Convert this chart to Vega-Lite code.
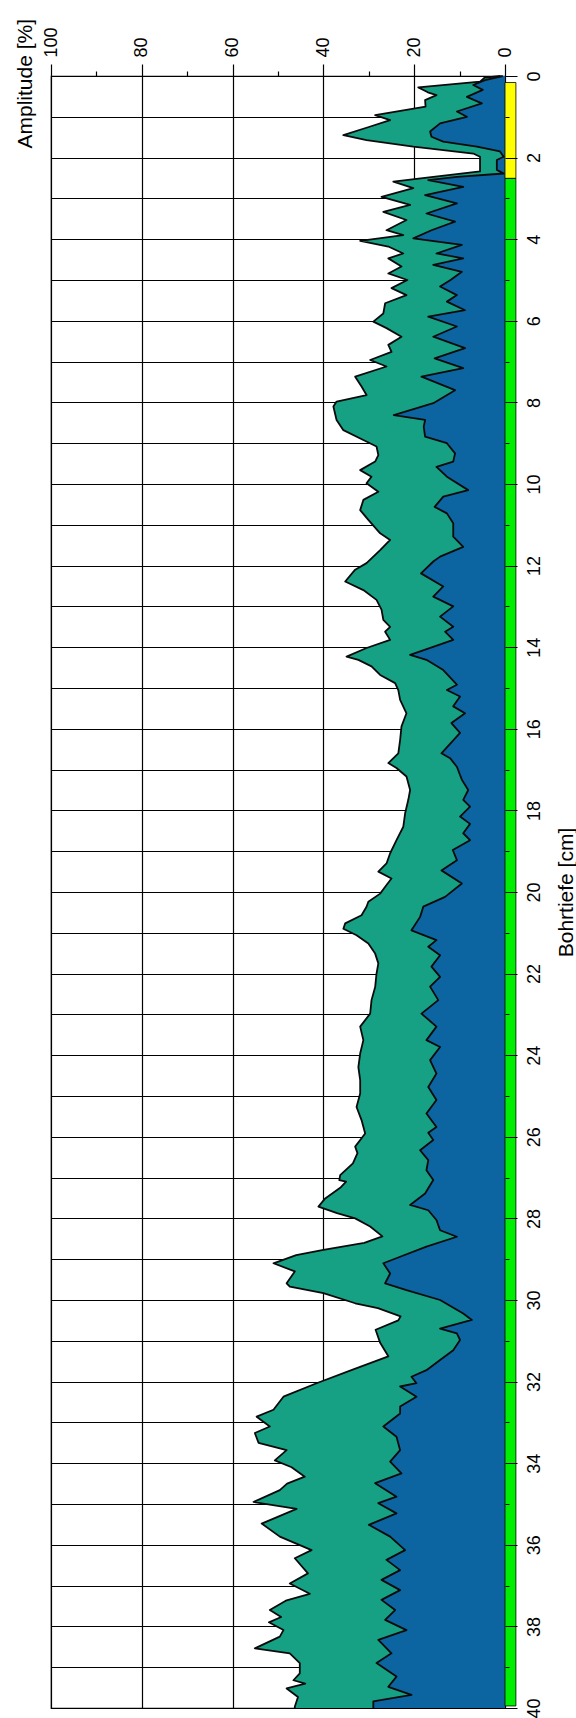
{
  "$schema": "https://vega.github.io/schema/vega-lite/v6.json",
  "width": 454,
  "height": 1632,
  "autosize": {"type": "none"},
  "padding": {"left": 51, "top": 76, "right": 71, "bottom": 10},
  "background": "white",
  "config": {
    "view": {"stroke": "black", "strokeWidth": 1.2},
    "font": "Liberation Sans"
  },
  "datasets": {
    "outer": [
      {"d":0.0,"v":1},{"d":0.04,"v":4.5},{"d":0.14,"v":5.5},{"d":0.28,"v":19.1},{"d":0.4,"v":17},{"d":0.47,"v":15.1},{"d":0.59,"v":17.6},{"d":0.75,"v":17.5},{"d":0.96,"v":28.6},{"d":1.08,"v":25.3},{"d":1.25,"v":30},{"d":1.45,"v":35.6},{"d":1.57,"v":30.5},{"d":1.73,"v":20.2},{"d":1.9,"v":7},{"d":1.98,"v":5.5},{"d":2.15,"v":5.5},{"d":2.34,"v":5.5},{"d":2.47,"v":15.8},{"d":2.59,"v":24.6},{"d":2.75,"v":20.2},{"d":2.96,"v":27.2},{"d":3.16,"v":20.9},{"d":3.33,"v":26.8},{"d":3.53,"v":21.7},{"d":3.78,"v":26.1},{"d":3.9,"v":22.4},{"d":4.04,"v":31.9},{"d":4.18,"v":25.7},{"d":4.35,"v":22.4},{"d":4.47,"v":25.7},{"d":4.67,"v":22.8},{"d":4.84,"v":25.7},{"d":5.0,"v":21.5},{"d":5.2,"v":25},{"d":5.37,"v":21.7},{"d":5.57,"v":26.4},{"d":5.82,"v":26.8},{"d":6.02,"v":29},{"d":6.18,"v":26.1},{"d":6.39,"v":22.8},{"d":6.59,"v":25.7},{"d":6.76,"v":25},{"d":6.96,"v":29.7},{"d":7.12,"v":26.1},{"d":7.37,"v":33},{"d":7.61,"v":31.6},{"d":7.82,"v":30.5},{"d":7.98,"v":37.1},{"d":8.1,"v":37.8},{"d":8.43,"v":37.1},{"d":8.68,"v":35.6},{"d":8.92,"v":31.2},{"d":9.08,"v":28.3},{"d":9.29,"v":27.9},{"d":9.45,"v":28.6},{"d":9.66,"v":31.9},{"d":9.82,"v":29.4},{"d":9.98,"v":30.5},{"d":10.19,"v":27.9},{"d":10.39,"v":31.2},{"d":10.64,"v":31.9},{"d":10.88,"v":30.1},{"d":11.21,"v":27.5},{"d":11.37,"v":25.3},{"d":11.62,"v":27.5},{"d":11.94,"v":30.5},{"d":12.1,"v":33},{"d":12.39,"v":35.2},{"d":12.6,"v":31.2},{"d":12.84,"v":28.3},{"d":13.08,"v":27.2},{"d":13.33,"v":26.8},{"d":13.5,"v":25.3},{"d":13.62,"v":26.4},{"d":13.82,"v":25.3},{"d":14.02,"v":30.5},{"d":14.23,"v":34.9},{"d":14.31,"v":32.3},{"d":14.47,"v":29.4},{"d":14.68,"v":27.5},{"d":14.88,"v":24.2},{"d":15.05,"v":23.5},{"d":15.29,"v":23.1},{"d":15.62,"v":21.7},{"d":15.94,"v":22.8},{"d":16.27,"v":23.1},{"d":16.6,"v":23.5},{"d":16.84,"v":25.7},{"d":16.96,"v":23.9},{"d":17.17,"v":21.7},{"d":17.5,"v":20.9},{"d":17.74,"v":21.3},{"d":18.07,"v":22},{"d":18.4,"v":22.4},{"d":18.73,"v":23.9},{"d":19.05,"v":25.3},{"d":19.3,"v":26.1},{"d":19.5,"v":27.9},{"d":19.67,"v":25},{"d":19.83,"v":26.1},{"d":20.04,"v":27.5},{"d":20.24,"v":30.1},{"d":20.36,"v":30.5},{"d":20.57,"v":31.6},{"d":20.77,"v":35.2},{"d":20.9,"v":35.6},{"d":21.06,"v":32.7},{"d":21.26,"v":30.1},{"d":21.51,"v":28.6},{"d":21.75,"v":27.9},{"d":22.0,"v":28.3},{"d":22.33,"v":28.6},{"d":22.65,"v":29.4},{"d":22.98,"v":29.7},{"d":23.3,"v":31.9},{"d":23.63,"v":31.2},{"d":23.96,"v":31.9},{"d":24.29,"v":32.3},{"d":24.61,"v":31.9},{"d":24.94,"v":31.9},{"d":25.27,"v":32.7},{"d":25.59,"v":31.6},{"d":25.92,"v":30.8},{"d":26.24,"v":33},{"d":26.4,"v":32.5},{"d":26.65,"v":33.5},{"d":26.94,"v":36.3},{"d":27.06,"v":36.5},{"d":27.1,"v":35},{"d":27.25,"v":36.3},{"d":27.51,"v":39.6},{"d":27.71,"v":41.1},{"d":27.87,"v":37},{"d":28.0,"v":33},{"d":28.2,"v":29.7},{"d":28.44,"v":27},{"d":28.6,"v":31},{"d":28.77,"v":40},{"d":28.9,"v":46},{"d":29.1,"v":51},{"d":29.3,"v":46.3},{"d":29.59,"v":48.1},{"d":29.67,"v":47.4},{"d":29.83,"v":40},{"d":30.08,"v":33},{"d":30.2,"v":28},{"d":30.4,"v":23},{"d":30.5,"v":23.5},{"d":30.73,"v":28.5},{"d":31.05,"v":27.5},{"d":31.38,"v":25.7},{"d":31.7,"v":33.4},{"d":32.04,"v":41.5},{"d":32.37,"v":48.8},{"d":32.69,"v":51},{"d":32.86,"v":54.7},{"d":33.1,"v":51.8},{"d":33.26,"v":55.1},{"d":33.5,"v":54.3},{"d":33.68,"v":48.1},{"d":33.93,"v":50.7},{"d":34.1,"v":47},{"d":34.33,"v":44.1},{"d":34.5,"v":48},{"d":34.66,"v":49.6},{"d":34.95,"v":55.4},{"d":35.12,"v":45.9},{"d":35.48,"v":53.6},{"d":35.8,"v":49.6},{"d":36.13,"v":42.6},{"d":36.33,"v":46.3},{"d":36.7,"v":43.4},{"d":36.95,"v":47.4},{"d":37.2,"v":43},{"d":37.36,"v":48.1},{"d":37.6,"v":51.8},{"d":37.77,"v":49.3},{"d":37.9,"v":52},{"d":38.09,"v":48.8},{"d":38.25,"v":49.6},{"d":38.54,"v":55.1},{"d":38.66,"v":47.4},{"d":38.9,"v":45.2},{"d":39.15,"v":45.2},{"d":39.32,"v":46.6},{"d":39.4,"v":44},{"d":39.52,"v":48.1},{"d":39.73,"v":45.6},{"d":39.97,"v":46.3},{"d":40.0,"v":46.3}
    ],
    "inner": [
      {"d":0.0,"v":0.5},{"d":0.1,"v":4.4},{"d":0.22,"v":7},{"d":0.34,"v":4.9},{"d":0.51,"v":8.4},{"d":0.67,"v":5.1},{"d":0.87,"v":10.6},{"d":1.0,"v":8.4},{"d":1.16,"v":14.3},{"d":1.36,"v":16.5},{"d":1.49,"v":16.2},{"d":1.61,"v":13.6},{"d":1.73,"v":6.2},{"d":1.85,"v":1.1},{"d":1.98,"v":0.3},{"d":2.06,"v":1.8},{"d":2.3,"v":1.8},{"d":2.39,"v":0.3},{"d":2.47,"v":10.6},{"d":2.55,"v":16.9},{"d":2.72,"v":9.2},{"d":2.92,"v":17.6},{"d":3.12,"v":10.6},{"d":3.37,"v":17.3},{"d":3.57,"v":11},{"d":3.78,"v":16.2},{"d":3.98,"v":20.2},{"d":4.14,"v":9.5},{"d":4.35,"v":15.1},{"d":4.47,"v":9.2},{"d":4.63,"v":15.8},{"d":4.8,"v":9.5},{"d":5.0,"v":12},{"d":5.16,"v":14.3},{"d":5.37,"v":10.6},{"d":5.53,"v":12.8},{"d":5.74,"v":8.8},{"d":5.9,"v":16.9},{"d":6.14,"v":10.6},{"d":6.39,"v":15.8},{"d":6.67,"v":8.8},{"d":6.92,"v":15.5},{"d":7.16,"v":9.2},{"d":7.37,"v":18.4},{"d":7.7,"v":11},{"d":8.02,"v":15.8},{"d":8.31,"v":24.5},{"d":8.43,"v":17.6},{"d":8.6,"v":17.9},{"d":8.84,"v":17.6},{"d":9.0,"v":12.8},{"d":9.25,"v":11},{"d":9.45,"v":11.4},{"d":9.58,"v":15.1},{"d":9.82,"v":12.8},{"d":10.15,"v":8.1},{"d":10.31,"v":13.6},{"d":10.56,"v":15.5},{"d":10.72,"v":12.8},{"d":10.96,"v":11.4},{"d":11.29,"v":11.4},{"d":11.54,"v":9.2},{"d":11.78,"v":14.3},{"d":11.9,"v":15.8},{"d":12.19,"v":18.5},{"d":12.51,"v":13.6},{"d":12.76,"v":15.8},{"d":13.0,"v":11.4},{"d":13.25,"v":14.3},{"d":13.5,"v":11.4},{"d":13.62,"v":13.2},{"d":13.82,"v":11.4},{"d":14.19,"v":20.9},{"d":14.31,"v":17.3},{"d":14.56,"v":13.6},{"d":14.92,"v":10.6},{"d":15.05,"v":12.8},{"d":15.21,"v":9.9},{"d":15.45,"v":11.4},{"d":15.62,"v":8.8},{"d":15.86,"v":11.8},{"d":16.1,"v":9.9},{"d":16.6,"v":14},{"d":16.72,"v":12.1},{"d":16.93,"v":10.6},{"d":17.25,"v":9.5},{"d":17.5,"v":8.1},{"d":17.74,"v":9.2},{"d":17.91,"v":7.7},{"d":18.15,"v":9.9},{"d":18.33,"v":7.7},{"d":18.56,"v":9.2},{"d":18.73,"v":7.7},{"d":18.97,"v":11.5},{"d":19.22,"v":10.6},{"d":19.47,"v":14},{"d":19.79,"v":9.5},{"d":20.12,"v":13.2},{"d":20.36,"v":18},{"d":20.61,"v":18.7},{"d":20.94,"v":20.6},{"d":21.18,"v":15.1},{"d":21.34,"v":16.9},{"d":21.55,"v":14.3},{"d":21.83,"v":16.2},{"d":22.08,"v":14.3},{"d":22.32,"v":16.5},{"d":22.65,"v":14.7},{"d":22.98,"v":18.4},{"d":23.3,"v":15.1},{"d":23.63,"v":17.3},{"d":23.8,"v":14.3},{"d":24.12,"v":16.5},{"d":24.45,"v":15.1},{"d":24.78,"v":16.9},{"d":25.1,"v":15.1},{"d":25.43,"v":17.3},{"d":25.76,"v":15.1},{"d":25.9,"v":16.9},{"d":26.08,"v":15.8},{"d":26.33,"v":18.7},{"d":26.57,"v":16.9},{"d":26.82,"v":17.3},{"d":27.06,"v":15.8},{"d":27.39,"v":17.6},{"d":27.67,"v":20.9},{"d":27.8,"v":16.9},{"d":28.04,"v":15.1},{"d":28.29,"v":14.3},{"d":28.45,"v":10.6},{"d":28.69,"v":17.3},{"d":28.94,"v":23.1},{"d":29.1,"v":26.8},{"d":29.35,"v":25.3},{"d":29.59,"v":26.4},{"d":29.76,"v":21.7},{"d":30.0,"v":14.3},{"d":30.33,"v":9.2},{"d":30.49,"v":7.3},{"d":30.7,"v":14.3},{"d":30.82,"v":10.6},{"d":30.98,"v":9.9},{"d":31.23,"v":11.4},{"d":31.47,"v":14.3},{"d":31.72,"v":17.3},{"d":31.88,"v":20.6},{"d":32.04,"v":19.5},{"d":32.12,"v":23.1},{"d":32.37,"v":19.5},{"d":32.61,"v":23.1},{"d":32.78,"v":23.1},{"d":33.1,"v":26.8},{"d":33.35,"v":23.9},{"d":33.68,"v":23.1},{"d":33.96,"v":25.3},{"d":34.25,"v":22.8},{"d":34.49,"v":28.6},{"d":34.82,"v":23.9},{"d":34.98,"v":27.9},{"d":35.23,"v":23.9},{"d":35.51,"v":30},{"d":35.8,"v":25.3},{"d":36.13,"v":22},{"d":36.37,"v":26.1},{"d":36.62,"v":23.1},{"d":36.86,"v":27.2},{"d":37.11,"v":23.1},{"d":37.35,"v":27.2},{"d":37.6,"v":24.2},{"d":37.84,"v":26.4},{"d":38.09,"v":21.7},{"d":38.33,"v":27.9},{"d":38.66,"v":25},{"d":38.9,"v":28.3},{"d":39.23,"v":23.9},{"d":39.48,"v":25.7},{"d":39.68,"v":20.6},{"d":39.84,"v":29},{"d":40.0,"v":29}
    ],
    "bar": [
      {"d0": 0.16, "d1": 2.51, "zone": "Y"},
      {"d0": 2.51, "d1": 39.95, "zone": "G"}
    ]
  },
  "resolve": {"axis": {"y": "independent"}},
  "layer": [
    {
      "data": {"name": "outer"},
      "mark": {"type": "area", "orient": "horizontal", "color": "#16a084"},
      "encoding": {
        "y": {"field": "d", "type": "quantitative", "scale": {"domain": [0, 40], "reverse": true, "nice": false},
          "axis": {"orient": "left", "values": [0,1,2,3,4,5,6,7,8,9,10,11,12,13,14,15,16,17,18,19,20,21,22,23,24,25,26,27,28,29,30,31,32,33,34,35,36,37,38,39,40],
            "grid": true, "gridColor": "black", "gridWidth": 1.2, "gridOpacity": 1, "labels": false, "ticks": false, "domain": false, "title": null}},
        "x": {"field": "v", "type": "quantitative", "stack": null, "scale": {"domain": [0, 100], "reverse": true, "nice": false, "zero": false},
          "axis": {"orient": "top", "values": [0,10,20,30,40,50,60,70,80,90,100],
            "grid": true, "gridColor": "black", "gridWidth": 1.2,
            "gridOpacity": {"condition": {"test": "datum.value % 20 === 0", "value": 1}, "value": 0},
            "domain": false, "ticks": true, "tickColor": "black", "tickWidth": 1.2,
            "tickSize": {"condition": {"test": "datum.value % 20 === 0", "value": 12}, "value": 5},
            "labelExpr": "datum.value % 20 === 0 ? datum.label : ''",
            "labelAngle": 270, "labelAlign": "left", "labelBaseline": "middle", "labelPadding": 7,
            "labelFontSize": 18, "labelFont": "Liberation Sans", "labelColor": "black",
            "title": "Amplitude [%]", "titleFont": "Liberation Sans", "titleFontSize": 21, "titleFontWeight": "normal", "titleColor": "black",
            "titleAngle": 270, "titleAlign": "left", "titleBaseline": "alphabetic", "titleX": -20, "titleY": 72}}
      }
    },
    {
      "data": {"name": "inner"},
      "mark": {"type": "area", "orient": "horizontal", "color": "#0c64a0"},
      "encoding": {
        "y": {"field": "d", "type": "quantitative", "scale": {"domain": [0, 40], "reverse": true, "nice": false}, "axis": null},
        "x": {"field": "v", "type": "quantitative", "stack": null, "scale": {"domain": [0, 100], "reverse": true, "nice": false, "zero": false}}
      }
    },
    {
      "data": {"name": "outer"},
      "mark": {"type": "line", "color": "#0a0a0a", "strokeWidth": 1.8, "strokeJoin": "round"},
      "encoding": {
        "y": {"field": "d", "type": "quantitative", "scale": {"domain": [0, 40], "reverse": true, "nice": false}, "axis": null},
        "x": {"field": "v", "type": "quantitative", "scale": {"domain": [0, 100], "reverse": true, "nice": false, "zero": false}},
        "order": {"field": "d", "type": "quantitative"}
      }
    },
    {
      "data": {"name": "inner"},
      "mark": {"type": "line", "color": "#0a0a0a", "strokeWidth": 1.8, "strokeJoin": "round"},
      "encoding": {
        "y": {"field": "d", "type": "quantitative", "scale": {"domain": [0, 40], "reverse": true, "nice": false}, "axis": null},
        "x": {"field": "v", "type": "quantitative", "scale": {"domain": [0, 100], "reverse": true, "nice": false, "zero": false}},
        "order": {"field": "d", "type": "quantitative"}
      }
    },
    {
      "data": {"name": "bar"},
      "mark": {"type": "rect", "stroke": "black", "strokeWidth": 0.8},
      "encoding": {
        "y": {"field": "d0", "type": "quantitative", "scale": {"domain": [0, 40], "reverse": true, "nice": false},
          "axis": {"orient": "right", "values": [0,1,2,3,4,5,6,7,8,9,10,11,12,13,14,15,16,17,18,19,20,21,22,23,24,25,26,27,28,29,30,31,32,33,34,35,36,37,38,39,40],
            "grid": false, "domain": false, "zindex": 1,
            "ticks": true, "tickColor": "black", "tickWidth": 1,
            "tickSize": {"condition": {"test": "datum.value % 2 === 0", "value": 12}, "value": 4},
            "labelExpr": "datum.value % 2 === 0 ? datum.label : ''",
            "labelAngle": 270, "labelAlign": "center", "labelBaseline": "top", "labelPadding": 8,
            "labelFontSize": 18, "labelFont": "Liberation Sans", "labelColor": "black",
            "title": "Bohrtiefe [cm]", "titleFont": "Liberation Sans", "titleFontSize": 21, "titleFontWeight": "normal", "titleColor": "black",
            "titleAngle": 270, "titleAlign": "center", "titleBaseline": "alphabetic", "titleX": 67, "titleY": 816}},
        "y2": {"field": "d1"},
        "x": {"datum": 0, "type": "quantitative", "scale": {"domain": [0, 100], "reverse": true, "nice": false, "zero": false}},
        "x2": {"datum": -2.4},
        "color": {"field": "zone", "type": "nominal", "scale": {"domain": ["Y", "G"], "range": ["#ffff00", "#00ee00"]}, "legend": null}
      }
    }
  ]
}
